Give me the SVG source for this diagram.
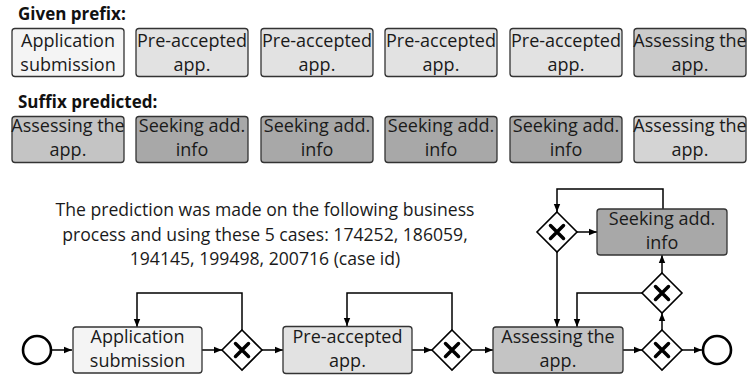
<svg xmlns="http://www.w3.org/2000/svg" width="747" height="377" viewBox="0 0 747 377">
<defs>
<style>
.t{font-family:"Open Sans","Noto Sans","DejaVu Sans",sans-serif;font-size:18px;fill:#1a1a1a;text-anchor:middle}
.p{font-size:17.6px}
.h{font-family:"Open Sans","Noto Sans","DejaVu Sans",sans-serif;font-size:17px;font-weight:bold;fill:#111}
.box{stroke:#333;stroke-width:1.3}
.c1{fill:#f4f4f4}.c2{fill:#e2e2e2}.c3{fill:#cbcbcb}.c4{fill:#a8a8a8}.c5{fill:#c4c4c4}.c6{fill:#d4d4d4}
.gw{fill:#fff;stroke:#000;stroke-width:1.6}
.x{stroke:#000;stroke-width:3.5;stroke-linecap:round}
.e{fill:#fff;stroke:#000;stroke-width:2.6}
.ln{fill:none;stroke:#000;stroke-width:1.5}
</style>
<marker id="a" viewBox="0 0 10 10" refX="10" refY="5" markerWidth="8" markerHeight="8" markerUnits="userSpaceOnUse" orient="auto">
<path d="M0,1 L10,5 L0,9 Z" fill="#000"/>
</marker>
<g id="gx"><path class="gw" d="M0,-20 L20,0 L0,20 L-20,0 Z"/><path class="x" d="M-6.5,-6.5 L6.5,6.5 M6.5,-6.5 L-6.5,6.5"/></g>
</defs>
<rect width="747" height="377" fill="#fff"/>

<text class="h" x="18" y="20">Given prefix:</text>
<text class="h" x="18" y="108">Suffix predicted:</text>

<g id="prefix1"><rect class="box c1" x="12" y="28.5" width="112" height="48" rx="3"/><text class="t" x="68" y="47">Application</text><text class="t" x="68" y="70.5">submission</text></g>
<g id="prefix2"><rect class="box c2" x="136" y="28.5" width="112" height="48" rx="3"/><text class="t" x="192" y="47">Pre-accepted</text><text class="t" x="192" y="70.5">app.</text></g>
<g id="prefix3"><rect class="box c2" x="261" y="28.5" width="112" height="48" rx="3"/><text class="t" x="317" y="47">Pre-accepted</text><text class="t" x="317" y="70.5">app.</text></g>
<g id="prefix4"><rect class="box c2" x="385" y="28.5" width="112" height="48" rx="3"/><text class="t" x="441" y="47">Pre-accepted</text><text class="t" x="441" y="70.5">app.</text></g>
<g id="prefix5"><rect class="box c2" x="510" y="28.5" width="112" height="48" rx="3"/><text class="t" x="566" y="47">Pre-accepted</text><text class="t" x="566" y="70.5">app.</text></g>
<g id="prefix6"><rect class="box c3" x="634" y="28.5" width="112" height="48" rx="3"/><text class="t" x="690" y="47">Assessing the</text><text class="t" x="690" y="70.5">app.</text></g>

<g id="suffix1"><rect class="box c5" x="12" y="116.5" width="112" height="46" rx="3"/><text class="t" x="68" y="132">Assessing the</text><text class="t" x="68" y="155.5">app.</text></g>
<g id="suffix2"><rect class="box c4" x="136" y="116.5" width="112" height="46" rx="3"/><text class="t" x="192" y="132">Seeking add.</text><text class="t" x="192" y="155.5">info</text></g>
<g id="suffix3"><rect class="box c4" x="261" y="116.5" width="112" height="46" rx="3"/><text class="t" x="317" y="132">Seeking add.</text><text class="t" x="317" y="155.5">info</text></g>
<g id="suffix4"><rect class="box c4" x="385" y="116.5" width="112" height="46" rx="3"/><text class="t" x="441" y="132">Seeking add.</text><text class="t" x="441" y="155.5">info</text></g>
<g id="suffix5"><rect class="box c4" x="510" y="116.5" width="112" height="46" rx="3"/><text class="t" x="566" y="132">Seeking add.</text><text class="t" x="566" y="155.5">info</text></g>
<g id="suffix6"><rect class="box c6" x="634" y="116.5" width="112" height="46" rx="3"/><text class="t" x="690" y="132">Assessing the</text><text class="t" x="690" y="155.5">app.</text></g>

<g id="note">
<text class="t p" x="265" y="216">The prediction was made on the following business</text>
<text class="t p" x="265" y="240.5">process and using these 5 cases: 174252, 186059,</text>
<text class="t p" x="265" y="265">194145, 199498, 200716 (case id)</text>
</g>

<g id="connectors">
<path class="ln" marker-end="url(#a)" d="M52,350 L72,350"/>
<path class="ln" marker-end="url(#a)" d="M202,350 L222,350"/>
<path class="ln" marker-end="url(#a)" d="M242,330 L242,293 L137,293 L137,327"/>
<path class="ln" marker-end="url(#a)" d="M262,350 L283,350"/>
<path class="ln" marker-end="url(#a)" d="M412,350 L432,350"/>
<path class="ln" marker-end="url(#a)" d="M452,330 L452,293 L347,293 L347,326"/>
<path class="ln" marker-end="url(#a)" d="M472,350 L493,350"/>
<path class="ln" marker-end="url(#a)" d="M622,350 L642,350"/>
<path class="ln" marker-end="url(#a)" d="M682,350 L702,350"/>
<path class="ln" marker-end="url(#a)" d="M662,330 L662,313"/>
<path class="ln" marker-end="url(#a)" d="M662,273 L662,255"/>
<path class="ln" marker-end="url(#a)" d="M642,293 L577,293 L577,327"/>
<path class="ln" marker-end="url(#a)" d="M577,232 L597,232"/>
<path class="ln" marker-end="url(#a)" d="M557,252 L557,327"/>
<path class="ln" marker-end="url(#a)" d="M663,209 L663,189 L557,189 L557,212"/>
</g>

<g id="start"><circle class="e" cx="37" cy="350" r="14"/></g>
<g id="task1"><rect class="box c1" x="73" y="327" width="129" height="46" rx="3"/><text class="t" x="137.5" y="343">Application</text><text class="t" x="137.5" y="367">submission</text></g>
<g id="gw1"><use href="#gx" x="242" y="350"/></g>
<g id="task2"><rect class="box c2" x="283" y="326.5" width="129" height="47" rx="3"/><text class="t" x="347.5" y="343">Pre-accepted</text><text class="t" x="347.5" y="367">app.</text></g>
<g id="gw2"><use href="#gx" x="452" y="350"/></g>
<g id="task3"><rect class="box c5" x="493" y="327" width="130" height="46" rx="3"/><text class="t" x="558" y="343">Assessing the</text><text class="t" x="558" y="367">app.</text></g>
<g id="gw3"><use href="#gx" x="662" y="350"/></g>
<g id="end"><circle class="e" cx="717" cy="350" r="14"/></g>
<g id="gw4"><use href="#gx" x="662" y="293"/></g>
<g id="task4"><rect class="box c4" x="597" y="209" width="130" height="46" rx="3"/><text class="t" x="662" y="225">Seeking add.</text><text class="t" x="662" y="249">info</text></g>
<g id="gw5"><use href="#gx" x="557" y="232"/></g>
</svg>
